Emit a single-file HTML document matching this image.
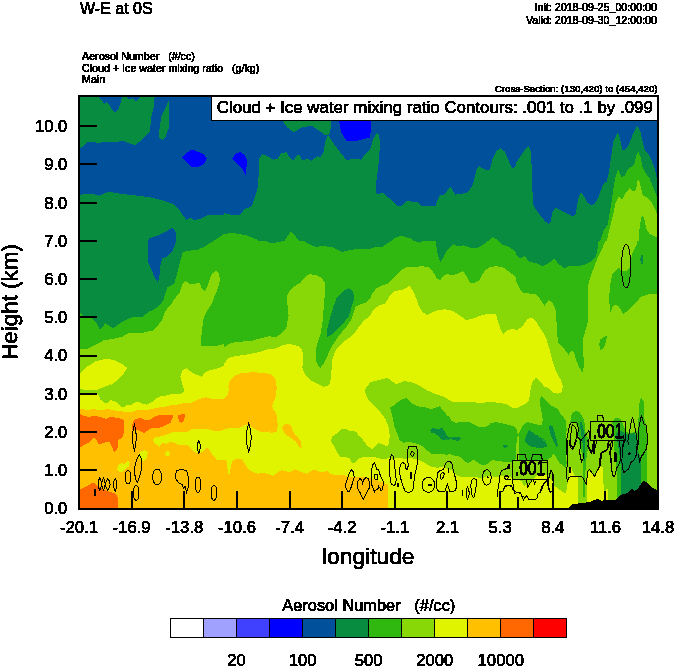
<!DOCTYPE html>
<html>
<head>
<meta charset="utf-8">
<title>W-E at 0S</title>
<style>
html,body{margin:0;padding:0;background:#fff;}
body{width:674px;height:667px;overflow:hidden;position:relative;font-family:"Liberation Sans",sans-serif;}
svg{position:absolute;left:0;top:0;display:block;}
text{font-family:"Liberation Sans",sans-serif;fill:#000;stroke:#000;stroke-width:0.5px;}
.s{stroke-width:0.6px;}
</style>
</head>
<body>
<svg width="674" height="667" viewBox="0 0 674 667">
<defs><filter id="th" x="0" y="0" width="100%" height="100%" filterUnits="userSpaceOnUse" color-interpolation-filters="sRGB"><feComponentTransfer><feFuncA type="discrete" tableValues="0 0 1 1 1"/></feComponentTransfer></filter></defs>
<rect x="0" y="0" width="674" height="667" fill="#ffffff"/>
<g shape-rendering="crispEdges">
<rect x="80" y="97" width="577" height="411" fill="#088c40"/>
<clipPath id="cp"><rect x="80" y="97" width="577" height="411"/></clipPath>
<g clip-path="url(#cp)">
<polygon fill="#00509b" points="80,148.6 80.2,148.6 87.9,142.1 99.9,142.7 108.6,141.6 117.4,142.1 122.9,140.5 131.6,144.3 135.3,144.9 140.4,141 145.9,135.5 149.8,132.2 151.3,116.9 153.5,108.1 154.6,97.2 657,97 657,180.4 657.2,180.4 655,169.4 651.7,160.7 648.4,154.1 645.1,150.8 643,143.2 640.3,131.1 637.5,126.1 635.3,128.9 632,136.6 628.7,145.3 624.4,149.7 622.2,149.7 620,138.8 617.8,132.2 613.4,141 611.2,156.3 609,171.6 606.8,181.5 603.6,183.7 600.3,191.3 598.1,197.9 594.8,203.4 590.9,205.5 587.1,202.3 584.3,196.8 581.2,192.4 579,195.7 577.3,204.4 575.5,214.3 572.5,216.5 566.3,213.2 559.8,209.9 555,207.7 552.1,213.2 551,220.9 548.8,223.7 545.6,222 541.2,216.5 536.8,211 533.1,204.4 532.4,189.1 531.8,169.4 530.9,151.9 528.7,145.8 524.8,149.7 520.4,156.3 516,162.9 516,165 513.4,168.3 511.2,167.2 507.9,158.5 504.6,151.5 500.2,148 495.9,151.9 492.6,158.5 490,169.4 487.1,170.5 482.7,168.3 479,166.1 476.2,170.5 474,180.4 471.8,186.9 467.4,192.4 461.9,193.9 455.4,194.6 453.2,191.3 450.6,186.9 447.7,190.2 444.4,194.6 441.1,194.6 438.3,197.9 435.7,205.5 429.1,206.2 421.4,206.2 417.1,201.8 412.7,202.3 409.4,200.5 406.1,201.2 401.7,206.2 397.4,206.2 391.9,200.1 387.5,196.8 383.1,193.1 377.7,193.9 375.5,191.3 376.1,182.6 378.3,167.2 379.9,145.3 379.2,134.4 376.6,133.3 373.3,138.8 370,149.7 370,149.7 366.3,153 360.8,159.6 353.1,158.9 346.6,160.2 340,151.9 333.4,143.2 328,134.8 325.8,138.8 323.6,151.9 320.3,157.4 317,156.3 311.6,160.7 307.2,158.5 302.8,160.7 299.5,155.2 297.3,155.2 293,160.7 289.7,157.4 286.4,152.3 281.3,153 277.6,158.5 273.3,159.6 267.8,156.3 262.3,154.1 259.5,158.5 259,169.4 257.9,186.9 254.6,197.9 251.4,206.6 244.8,208.8 239.3,215.4 232.8,215 224,213.2 224,215 207.1,215.4 200.6,218.7 194,220.2 190.7,217.6 186.4,219.8 183.1,215.4 178.7,208.8 174.3,204.4 165.6,201.2 150.2,197.4 134.9,195.3 121.8,193.9 108.6,191.7 98.8,195.7 93.3,193.9 80.2,194.6 80,194.6"/>
<polygon fill="#00509b" points="99.2,97.2 102.1,100.5 104.3,103.8 106.5,101.6 108.6,103.8 111.9,109.2 115.2,112.5 118.5,109.2 120.7,102.7 121.8,97.2"/>
<polygon fill="#00509b" points="126.6,97.2 129.4,99.4 132.7,98.3 136,101.1 140.4,97.2"/>
<polygon fill="#00509b" points="148,241 149.1,238.4 159,235.1 165.6,231.8 172.1,227.9 175.4,230.7 176.5,241 175.4,243.2 172.1,251.9 167.7,256.3 162.3,258.5 160.7,262.9 159.4,276 157.9,282.6 154.6,277.1 151.3,269.5 147.6,260.7 147.6,241"/>
<polygon fill="#088c40" points="168.8,100.5 169.5,108.1 168.8,127.8 165.6,136.6 162.3,139.9 159,137.7 158.6,134.4 160.1,125.6 161.2,116.9 164.5,110.3 167.7,102.7"/>
<polygon fill="#088c40" points="281.3,119.1 287.5,127.8 294,132.2 300.6,127.8 311.6,125.6 318.1,130 325.8,135.5 329.1,134.4 330.8,127.8 331.3,119.1"/>
<polygon fill="#0000ff" points="182,158 186.4,153 191.8,149.3 197.3,151.5 203.9,154.1 206.7,158.5 203.9,164 197.3,167.2 191.8,167.2 187.4,162.9"/>
<polygon fill="#0000ff" points="232.3,158.5 236,153 240.4,152.3 244.8,155.2 247,160.7 246.3,169.4 245.5,174.9 242.6,169.4 237.1,164"/>
<polygon fill="#0000ff" points="338.9,119.1 341.1,132.2 346.6,141 355.3,141.4 364.1,138.8 370,137.7 371.1,127.8 371.1,119.1"/>
<polygon fill="#30b810" points="80,313.2 80.2,313.2 82.4,315.4 88.9,316.5 93.3,319.8 96.6,323.1 99.9,329.7 102.1,327.5 105.4,323.1 108.6,325.3 113,328.6 117.4,325.3 121.8,322 128.3,318.7 134.9,316.5 142.6,317.2 148,312.1 154.6,309.3 160.1,304.5 163.4,300.1 165.6,292.4 167.7,287 174.3,283.7 177.6,271.6 179.8,262.9 182.6,253 185.3,250.9 196.2,250.2 202.8,247.6 209.3,243.6 213.7,241 224,234 232.8,232.9 245.9,235.1 256.8,239.5 259,241 265.6,241 271.1,243.2 278.7,242.1 283.1,241 284.2,241 290.8,231.1 299.5,241 303.9,241 309.4,244.3 315.9,247.1 322.5,245.8 333.4,247.6 342.2,251.9 348.8,250.2 359.7,248.7 370,248.7 370,248.7 376.6,246.5 383.1,246.5 390.8,241 391.9,241 396.3,236.8 402.8,236.2 410.5,238.4 413.8,241 414.9,241 419.3,242.8 423.6,241 435.7,241 436.8,249.8 439,258.5 440.5,261.8 443.3,257.4 446.6,250.9 453.2,244.3 457.6,246.5 464.1,245.4 470.7,247.6 477.3,248 483.8,244.3 487.1,241 488.2,241 492.6,237.3 497,239.5 499.1,241 499.1,241 501.3,244.3 507.9,246.5 513.4,249.8 516,253 516,254.1 520.4,258.5 524.8,256.3 529.1,261.8 535.7,262.9 542.3,266.2 548.8,262.9 554.3,258.5 558.7,264 564.2,268.4 570.7,265.5 577.3,266.2 583.9,265.1 590.4,261.8 595.9,256.3 597.4,249.8 598.7,241 600.3,241 603.6,230.7 607.9,224.1 611.2,204.4 613.4,189.1 615.6,176 618.4,169.4 621.1,177.1 624.4,176 627.6,169.4 630.9,167.2 634.2,165 636,156.3 638.1,151.5 640.3,156.3 642.5,167.2 646.2,173.8 649.5,178.2 653.9,189.1 657.2,197.9 657,197.9 657,508 80,508"/>
<polygon fill="#88d808" points="80,349.4 80.2,349.4 87.9,348.7 95.5,345 104.3,339.9 113,339.1 121.8,336.9 129.4,332.9 143.7,332.5 152.4,330.7 157.9,325.3 162.3,319.8 164.5,313.2 167.7,307.8 171,304.5 174.3,299 179.8,292.4 182.6,283.7 185.3,280.8 189.6,283.7 195.1,283.7 199.5,282.6 201.7,288.1 204.5,291.3 207.1,287 209.3,280.4 212,273.8 215.9,270.6 219.2,273.8 219.8,280.4 218.1,288.1 214.8,295.7 211.5,304.5 206.1,312.1 203.2,319.8 201.7,332.9 200.6,346.1 209.3,346.5 218.1,345.6 224,343.9 224,347.2 230.6,342.8 241.5,341.7 252.5,340.6 260.1,338.4 268.9,336.2 275.4,337.3 282,332.9 286.4,327.5 288.6,315.4 287.5,304.5 287,295.7 289.7,290.3 295.1,285.9 300.6,282.6 305,277.1 309.4,274.3 315.9,274.9 321.4,277.8 324.7,282.6 324.7,295.7 323.6,308.9 322.5,322 320.3,335.1 317,343.9 315.5,352.6 315.9,360.3 318.1,365.8 320.3,368 323.6,363.6 326.9,357 330.2,349.4 333.4,343.9 337.8,337.3 342.2,331.8 346.6,326.4 351,319.8 353.6,313.2 355.3,306.7 359.7,304.5 366.3,302.3 370,299 370,299 372.2,293.5 376.6,288.1 380.9,285.9 387.5,283.7 394.1,277.1 400.6,270.6 407.2,266.8 413.8,267.3 421.4,266.2 429.1,267.3 433.5,272.7 436.8,278.2 440,280.4 443.3,276 446.6,273.8 452.1,275.6 457.6,273.8 463,271.2 466.3,276 469.6,282.6 474,283 479.4,280.4 482.7,273.8 486,269.5 490.4,266.8 497,266.2 503.5,267.7 510.1,272.7 516,277.1 516,281.5 519.3,288.1 522.6,292.4 529.1,293.5 534.6,293.5 540.1,299 544.5,305.6 548.8,300.1 552.1,302.3 555.4,308.9 556.5,322 557.2,335.1 558.7,343.9 563.1,347.2 568.5,354.8 571.8,350.4 574,352.6 576.2,360.3 579.5,368 582.8,372.3 584.3,363.6 582.8,350.4 583.4,337.3 586,328.6 588.2,319.8 587.8,304.5 588.2,284.8 591.5,273.8 597,259.6 601.4,249.8 605.7,241 606.8,241 610.1,226.3 613.4,213.2 615.6,202.3 618.9,196.8 622.2,200.1 625.4,193.5 629.8,188 633.1,191.3 636,190.2 637.5,181.5 639,179.9 640.8,186.9 643,195.7 647.3,197.9 651.7,202.3 655,208.8 657.2,215.4 657,215.4 657,508 80,508"/>
<polygon fill="#30b810" points="638.6,241 639.7,226.3 641.9,215 644.1,217.6 646.2,228.5 649.5,234 657.2,237.3 657.2,293.5 647.3,294.6 640.8,296.8 635.3,303.4 629.8,308.9 623.3,314.3 618.9,306.7 615.6,304.9 612.3,306.7 610.6,313.2 609,300.1 610.1,284.8 612.3,273.8 618.9,267.3 621.1,270.6 625.4,271.6 629.8,267.3 632,254.1 636.4,245.4 637.5,241"/>
<polygon fill="#30b810" points="599.2,343.9 600.3,339.5 603.6,336.9 606.8,336.2 606.2,341.7 603.6,348.3 600.3,350"/>
<polygon fill="#088c40" points="640.3,259.6 640.8,255.9 641.9,254.8 643,255.9 643.4,259.6 643,262.9 641.9,264.4 640.8,262.9"/>
<polygon fill="#088c40" points="326.9,337.3 327.3,328.6 330.2,317.6 333.4,306.7 336.7,297.9 342.2,291.8 348.8,288.1 353.1,290.9 354.2,299 351,308.9 348.8,316.5 343.3,323.1 337.8,328.6 332.4,334"/>
<polygon fill="#e0f400" points="80.2,373.4 86.8,366.9 95.5,361.4 104.3,359.2 113,359.6 120.7,363.1 127.3,368 122.9,374.5 117.4,380 110.8,385.5 111.7,383.7 105,386.7 99,389 94.5,390.5 87,390.2 79.9,389"/>
<polygon fill="#e0f400" points="80,393.2 79.9,393.2 96.7,393.5 99,395 100.5,399.5 104.2,403.2 108,402.5 110.2,400.2 114,401 117.7,403.2 121.5,407 124.5,407 127.5,404.7 131.2,404.7 135,402.5 138.7,401.7 142.5,404 147,404.7 151.5,402.5 156,398.7 159.7,396.5 165,395.7 171,394.2 178,393.5 179,394.2 182.7,392.7 184.2,390.5 182.7,386 181.2,380 180.4,376.7 182.6,370.1 186.4,368.4 191.8,372.3 197.3,375 201.7,376.7 205,372.3 209.3,370.1 215.9,369.1 224,365.8 224,363.6 228.4,358.1 236,355.9 245.9,354.8 256.8,352.6 267.8,349.4 276.5,348.3 283.1,345 289.7,343.9 298.4,346.1 302.4,349.4 302.8,359.2 302.4,368 305,374.5 310.5,380 314.5,382.2 319,384.5 323.5,386.7 328,386 330.2,383 330.8,376.7 331.3,372.3 332.4,359.2 335.6,350.4 341.1,343.9 346.6,339.5 353.1,335.1 357.5,328.6 361.9,323.1 366.3,318.7 370,315.4 370,315.4 373.3,310 378.8,305.6 385.3,303.4 389.7,295.7 394.1,291.3 402.8,289.6 409.4,285.9 412.7,290.3 416,297.9 419.3,306.7 422.5,312.1 427.3,315 432.4,312.1 437.9,310 445.5,309.3 453.2,311 459.7,315.4 466.3,320.2 472.9,318.7 479.4,315.9 486,314.3 495.9,314.3 498.1,322 500.2,328.6 503.1,334 506.8,330.7 511.2,329 516,329.7 516,330.7 522.6,326.4 526.9,319.8 531.3,317.6 535.7,320.9 539,326.4 543.4,332.9 546.6,339.5 549.9,350.4 553.2,363.6 556.5,372.3 560.9,380 563.1,387 562.7,387.5 561.2,392.7 561.2,508 80,508"/>
<polygon fill="#88d808" points="531.3,387 535.7,377.8 540.1,381.1 544.5,387 538,384.5 542.5,386 548.5,388.2 553,392.7 557.5,393.5 556,398 547,398 538,395"/>
<polygon fill="#88d808" points="331,440 332.5,436.2 337,433.2 340.7,429.5 346,429.2 350.5,431 356.5,431.7 358.5,435.5 363,440 367.5,446 372,449 375,446 378,443 382.5,444.5 387,446.7 389.2,443 389.7,435.5 388.5,426.5 385.5,419 381,413 375,407 369,401 365.7,395 365.2,389 369,384.5 370,382.2 378.8,380 387.5,377.8 391.9,381.1 396.3,384.4 403.9,381.1 411.6,382.2 419.3,385.5 421.4,387 427.5,390.5 433.5,393.5 441,395.7 448.5,399.5 454,402.5 450.5,401.7 458,402.5 465.5,402.2 476,402.5 485,402.5 494,402.2 501.5,403.2 507.5,404.7 512,407.7 516.5,408.5 521,406.2 525.5,404 528.5,401 530,395 530.7,387.5 532.2,382.2 533.7,380 538,384.5 542.5,386 548.5,388.2 553,392.7 557.5,393.5 561.2,392.7 657,392.7 657,508 578.4,508 578.4,508 578.4,476.2 575.1,475.7 573,471.8 571.6,468.5 570.7,468 569.7,471.8 569.1,474.8 567.9,482 566,493 563,492.2 558.8,489 554.6,485.9 551.4,479.6 547.2,475.4 542,473.3 538.8,474.3 534.6,477.5 529.4,483.8 524,485.9 521,480.6 513.6,479.6 510.5,477.5 506.3,475.4 503,476.4 500,476.5 494.4,477 490.2,475.4 486,476.5 482,478.6 476.7,477 471.5,477.5 466.3,476.5 462.2,477 458,476 454.9,473.9 452.3,470.8 444.5,467.1 444,466.2 438,467.7 432,467 427.5,464.7 423,461.7 417,459.5 411,458 405,458.7 399,458 393,458.7 388.5,458 384,459.5 378,458 372,456.5 366,456.5 360,458 355,462.5 352,462.5 349.7,458 346,457.2 340,456.5 337,452 334,446 331.7,443"/>
<polygon fill="#e0f400" points="586.7,508 586.7,482 587.7,474.6 589.3,470.4 592.5,473.6 594.6,476.2 597.2,470.4 599.8,467.3 603,466.8 603.4,482 603.9,489.3 603.9,508"/>
<polygon fill="#e0f400" points="551.4,479.6 554.6,485.9 558.8,489 563,492.2 566,493 567.9,482 569.1,474.8 569.7,471.8 570.7,468 571.6,468.5 573,471.8 575.1,475.7 578.4,476.2 578.4,508 551,508"/>
<polygon fill="#e0f400" points="606.3,489.3 608.1,489.3 608.1,508 606.3,508"/>
<polygon fill="#30b810" points="390,407 393.7,405.8 397.5,402.5 402,399.2 406.5,398.3 410.2,401.7 414,404.7 420,406.7 426,407.3 430.5,409.2 435,407.7 439.5,406.2 442.5,410 447,415.2 451.5,419 454,420.5 449,417.5 452,421.2 455,422.7 461,422.3 468.5,422 474.5,425 479,427.2 485,426.8 489.5,425 491,422.7 497,422.3 503,423.5 509,425 513.5,426.5 516.5,429.5 518,434.7 516.5,443 516.2,450.5 516.5,455 515,461 509,462.2 503,461.7 497,460.7 492.5,460.2 489.5,461.7 487.2,464 483.5,465.5 479.7,464 476.7,461.7 473.7,459.5 471.5,461 468.5,463.2 465.5,461.7 462.5,459.5 459.5,456.5 455,455.7 450.5,454.2 446,453.5 448.5,455 442.5,454.2 436.5,453.5 432,454.2 427.5,450.5 423,446.7 418.5,444.5 414,443 408,441.5 403.5,443 399.7,440 397.5,434 394.5,426.5 393,419 391.5,413"/>
<polygon fill="#30b810" points="518,434.7 520.2,431 522.5,426.5 524.7,423.5 527.7,422 533,423.5 539,425 542,425 542.7,419 541.2,410 539.7,402.5 540.5,398 543.5,395.7 546,395 540.5,396.8 543.1,397.3 545.7,400 548.9,403.6 552,406.3 556.2,407.8 558.3,409.9 560.4,414.1 563.6,417.3 565.7,420.4 566.2,424.6 566.7,429.9 566.2,434.1 566.2,453.7 566.6,463.5 565.5,467.6 563.2,465.7 560.2,463.5 558,460.5 555.7,456.7 553.5,454.1 550.9,457.5 547.5,459.7 540,459.5 530,460 522,461 519,461.5 518.7,455 518.7,446 519.5,438.5"/>
<polygon fill="#30b810" points="570.4,422.5 570.9,416.2 573,412.6 576.2,411 579.3,412 581.4,415.2 583.5,419.4 584.6,423.6 585.1,429.9 586.1,435.1 589,440 588,448 586.5,458 585.5,470 585.2,497 582.6,497 582.6,470 582.8,458 581,450 579,442 578.3,434 577.5,426 575,422.5"/>
<polygon fill="#30b810" points="612.1,421.3 614.8,418.6 618.1,417.5 620.8,419.7 623.5,425.6 625.6,431 629,433.2 632,433 637.5,431 638.6,417 639.1,409.4 639.7,400.8 641.3,398.1 643.5,400.8 643.8,407.3 643.5,414.8 645.1,421.3 646.7,426.7 647.8,435.4 647.2,444 647,460 647,482 647,508 617,508 617,482 616,461 614.4,450.5 613.9,440 613.2,427.8"/>
<polygon fill="#088c40" points="429.7,430.2 432.7,428.3 438,428.7 442.5,428.3 444.7,431.7 447,436.2 451.5,437.7 454,437 450.5,436.7 456.5,437 461,437.7 458.7,441.5 455,440 450.5,439.2 446,440 447,439.2 444,440.7 441,439.2 438,435.5 434.2,433.2 431.2,432.5"/>
<polygon fill="#088c40" points="502.2,445.7 505.2,444.8 507.5,445.7 506,447.5 503.7,446.7"/>
<polygon fill="#088c40" points="525.2,438.5 527,434 529.2,430.2 533,432.5 537.5,436.2 542,439.2 546,440.7 533.1,432.5 536.3,434.6 540.5,438.3 544.7,441.4 547.3,444.6 546.8,447.2 542.6,447.7 537.3,447.7 533.1,447.2 530,445.6 536,447.5 531.5,446.7 527.7,444.5 525.5,441.5"/>
<polygon fill="#088c40" points="549.4,426.2 551,425.2 552.6,426.2 554.1,430.9 555.7,436.2 557.3,442.5 557.8,446.1 556.2,446.7 554.7,443.5 552.6,439.3 550.5,434.1 549.4,429.9"/>
<polygon fill="#088c40" points="580.2,422.5 581.4,422 582.5,424.6 583.5,428.8 584.6,434.1 585.1,439.3 585.1,445.6 585.1,453 585,461 584.2,461 583.5,454 583,449.8 582.5,442.5 581.4,435.1 580.4,428.8"/>
<polygon fill="#088c40" points="615.9,433.2 618.1,432.1 621.3,431 624.6,433.2 627.8,435.4 631,433.2 634.3,433.2 636.4,436.4 637.5,441.8 638,450.5 640.1,456.8 641,466.2 641.2,482 641.2,508 621.2,508 621.2,471.5 619.7,455.7 618.1,445 616.5,438"/>
<polygon fill="#088c40" points="502.6,446.5 505,445.3 507.9,446.5 505,447.8"/>
<polygon fill="#ffc000" points="80,408.5 79.9,408.5 87,410 93,409.2 100.5,410 108,409.2 115.5,410.7 123,411.5 130.5,412.2 138,410 145.5,410 151.5,409.2 157.5,407.7 163.5,407 169.5,405.5 178,404.7 177.5,404.7 185,402.5 192.5,402.5 200,398.7 206,397.2 212,398.7 222.5,399.5 227.7,395 228.8,389 229.2,384.5 230,380 228.4,387 230.6,380 234.9,375.6 241.5,373 252.5,372.3 263.4,372.8 271.1,374.5 275.4,378.9 276.1,387 275.5,380 276.7,387.5 276.2,395 274,401 272.2,406.2 273.2,410 276.2,412.2 277,419 277.7,425 277,431.7 269.5,433.2 262,431.7 270,470 268,473.7 272.5,476 277,473 281.5,470 286,471.2 290.5,472.2 294.2,469.2 298,470.7 302.5,472.2 307,473.7 311.5,470.7 314.5,469.7 319,471.5 323.5,472.2 327.2,470.7 330.2,473.7 335.5,475.2 341.5,474.5 346,476 349,477.5 358.5,476.5 363,477.2 369,478 375,479.5 381,481.7 386.2,484 388.5,486.2 388.2,493 387.7,500.5 388.2,507.7 80,508"/>
<polygon fill="#e0f400" points="153,439.2 156,437 162,436.2 168,434 174,431.7 179,432.5 188,431.7 191.7,429.2 200,429.2 209,429.5 215,431 219.5,431.3 225.5,428.7 233,428 239,428.3 243.5,425.7 248,424.2 254,428.7 260,431.7 266,432.5 270,431 270,470 263,473 257,473.7 251.7,471.5 248,468.5 245,464 242,459.5 236.7,458.7 232.2,461 230.7,467 230,473.7 227.7,473.7 227.3,464 226.2,459.5 221,460.2 216.5,459.5 212.7,455 209.7,450.5 206.7,447.5 202.2,452 199.2,453.5 194.7,452 191,449 188,445.2 179,444.8 171,441.5 166.5,443.7 162,443 159.7,446.7 156,444.5 153.7,441.5"/>
<polygon fill="#e0f400" points="262,431.7 269.5,433.2 277,431.7 278.5,440 277,455 271,470 268,473.7 262,473"/>
<polygon fill="#e0f400" points="165,453.5 166.5,451.2 168.7,451.2 169.8,454.2 168,456.5 165.7,455.7"/>
<polygon fill="#e0f400" points="117.3,468.5 118.5,464.7 121.5,463.2 124.5,464 127.5,461 129.7,461.7 129,466.2 126,468.5 123,471.5 119.2,472.2 117.7,470.7"/>
<polygon fill="#e0f400" points="138,454.2 141,451.2 144.7,450.2 147.7,452 147.3,456.5 145.5,460.2 142.5,461 139.5,458.7"/>
<polygon fill="#ffc000" points="282.2,428 283.7,425 287.5,423.8 291.2,425.7 292.7,430.2 294.2,434 298,437.7 300.7,441.5 301.7,446.7 300.2,448.2 298,445.2 295.7,441.5 292,438.5 288.2,436.2 284.5,433.2"/>
<polygon fill="#ff6800" points="79.9,413.7 84,416 88.5,416.7 96,416 102,417.5 106.5,419 110.2,416.7 115.5,417.5 121.5,419 124.5,420.2 124.2,429.5 123,437 120.7,438.5 118.5,440 117.7,447.5 116.2,451.2 114,452 111.7,446 109.5,441.5 105.7,442.2 102,443.7 98.2,443.7 96.7,440 94.5,437.7 91.5,440 88.5,443 84,445.2 79.9,447.5"/>
<polygon fill="#ff6800" points="132.3,425.7 132.9,421.7 135.7,418.7 141,418.2 147,420.5 151.5,419 154.5,416.7 159,415.2 165,415.2 171,414.5 170,414.5 173.7,414.5 170.7,422.7 166.5,425 162,427.2 156,428 151.5,428 147,431 144,433.2 141,431.7 137.2,429.5 132,429.5"/>
<polygon fill="#ff6800" points="177.5,414.8 185,414.2 184.2,420.5 182,422.7 179.7,422 178.2,418.2"/>
<polygon fill="#ff6800" points="79.9,489.2 84,487.7 88.5,485.5 92.2,482.5 94.5,483.2 97.5,486.2 100.5,487.7 105,490 110.2,492.2 114.7,493 117.3,496 118.2,502 118.2,507.7 79.9,507.7"/>
<polygon fill="#000000" points="568,508 572,504.5 581,503 589,502.2 597.5,499 598.2,499.3 602.3,500.8 605.5,500 616,499.8 621.2,494.6 626.5,493.5 631.7,488.8 634.9,490.9 638,488.3 641.2,483.5 643.8,481.1 646.4,482 649.6,485.1 652.7,487.7 657,490 657,508"/>
</g>
</g>
<g shape-rendering="crispEdges">
<rect x="211.5" y="96" width="446" height="24" fill="#fff" stroke="#000" stroke-width="1"/>
<rect x="79" y="96" width="579" height="413" fill="none" stroke="#000" stroke-width="2"/>
<rect x="131.0" y="491" width="2" height="18" fill="#000"/>
<rect x="183.0" y="491" width="2" height="18" fill="#000"/>
<rect x="236.0" y="491" width="2" height="18" fill="#000"/>
<rect x="289.0" y="491" width="2" height="18" fill="#000"/>
<rect x="341.0" y="491" width="2" height="18" fill="#000"/>
<rect x="394.0" y="491" width="2" height="18" fill="#000"/>
<rect x="446.0" y="491" width="2" height="18" fill="#000"/>
<rect x="499.0" y="491" width="2" height="18" fill="#000"/>
<rect x="552.0" y="491" width="2" height="18" fill="#000"/>
<rect x="604.0" y="491" width="2" height="18" fill="#000"/>
<rect x="79" y="469.0" width="18" height="2" fill="#000"/>
<rect x="79" y="431.0" width="18" height="2" fill="#000"/>
<rect x="79" y="393.0" width="18" height="2" fill="#000"/>
<rect x="79" y="355.0" width="18" height="2" fill="#000"/>
<rect x="79" y="316.0" width="18" height="2" fill="#000"/>
<rect x="79" y="278.0" width="18" height="2" fill="#000"/>
<rect x="79" y="240.0" width="18" height="2" fill="#000"/>
<rect x="79" y="202.0" width="18" height="2" fill="#000"/>
<rect x="79" y="163.0" width="18" height="2" fill="#000"/>
<rect x="79" y="125.0" width="18" height="2" fill="#000"/>
</g>
<g filter="url(#th)">
<text x="79.0" y="532.8" font-size="16.7" text-anchor="middle">-20.1</text>
<text x="131.6" y="532.8" font-size="16.7" text-anchor="middle">-16.9</text>
<text x="184.3" y="532.8" font-size="16.7" text-anchor="middle">-13.8</text>
<text x="236.9" y="532.8" font-size="16.7" text-anchor="middle">-10.6</text>
<text x="289.6" y="532.8" font-size="16.7" text-anchor="middle">-7.4</text>
<text x="342.2" y="532.8" font-size="16.7" text-anchor="middle">-4.2</text>
<text x="394.8" y="532.8" font-size="16.7" text-anchor="middle">-1.1</text>
<text x="447.5" y="532.8" font-size="16.7" text-anchor="middle">2.1</text>
<text x="500.1" y="532.8" font-size="16.7" text-anchor="middle">5.3</text>
<text x="552.8" y="532.8" font-size="16.7" text-anchor="middle">8.4</text>
<text x="605.4" y="532.8" font-size="16.7" text-anchor="middle">11.6</text>
<text x="658.0" y="532.8" font-size="16.7" text-anchor="middle">14.8</text>
<text x="67.4" y="514.3" font-size="16.7" text-anchor="end">0.0</text>
<text x="67.4" y="476.1" font-size="16.7" text-anchor="end">1.0</text>
<text x="67.4" y="437.9" font-size="16.7" text-anchor="end">2.0</text>
<text x="67.4" y="399.6" font-size="16.7" text-anchor="end">3.0</text>
<text x="67.4" y="361.4" font-size="16.7" text-anchor="end">4.0</text>
<text x="67.4" y="323.2" font-size="16.7" text-anchor="end">5.0</text>
<text x="67.4" y="285.0" font-size="16.7" text-anchor="end">6.0</text>
<text x="67.4" y="246.8" font-size="16.7" text-anchor="end">7.0</text>
<text x="67.4" y="208.5" font-size="16.7" text-anchor="end">8.0</text>
<text x="67.4" y="170.3" font-size="16.7" text-anchor="end">9.0</text>
<text x="67.4" y="132.1" font-size="16.7" text-anchor="end">10.0</text>
<text x="368.3" y="563.5" font-size="22.8" text-anchor="middle">longitude</text>
<text transform="translate(17.3,302) rotate(-90)" font-size="22.4" text-anchor="middle">Height (km)</text>
<text x="80" y="14" font-size="16">W-E at 0S</text>
<text class="s" x="657" y="11.3" font-size="10.7" text-anchor="end">Init: 2018-09-25_00:00:00</text>
<text class="s" x="657" y="23.5" font-size="10.7" text-anchor="end">Valid: 2018-09-30_12:00:00</text>
<text class="s" x="82" y="60" font-size="10.7" xml:space="preserve">Aerosol Number   (#/cc)</text>
<text class="s" x="82" y="71.5" font-size="10.7" xml:space="preserve">Cloud + Ice water mixing ratio   (g/kg)</text>
<text class="s" x="82" y="83" font-size="10.7">Main</text>
<text class="s" x="657.5" y="91.5" font-size="9.7" text-anchor="end">Cross-Section: (130,420) to (454,420)</text>
<text x="434.8" y="113.3" font-size="16.9" text-anchor="middle">Cloud + Ice water mixing ratio Contours: .001 to .1 by .099</text>
<text x="368.8" y="610.5" font-size="16.4" text-anchor="middle" xml:space="preserve">Aerosol Number   (#/cc)</text>
</g>
<g shape-rendering="crispEdges">
<rect x="170.5" y="618" width="33.0" height="19.5" fill="#ffffff" stroke="#000" stroke-width="1"/>
<rect x="203.5" y="618" width="33.0" height="19.5" fill="#a0a0ff" stroke="#000" stroke-width="1"/>
<rect x="236.6" y="618" width="33.0" height="19.5" fill="#4040ff" stroke="#000" stroke-width="1"/>
<rect x="269.6" y="618" width="33.0" height="19.5" fill="#0000ff" stroke="#000" stroke-width="1"/>
<rect x="302.6" y="618" width="33.0" height="19.5" fill="#00509b" stroke="#000" stroke-width="1"/>
<rect x="335.6" y="618" width="33.0" height="19.5" fill="#088c40" stroke="#000" stroke-width="1"/>
<rect x="368.7" y="618" width="33.0" height="19.5" fill="#30b810" stroke="#000" stroke-width="1"/>
<rect x="401.7" y="618" width="33.0" height="19.5" fill="#88d808" stroke="#000" stroke-width="1"/>
<rect x="434.7" y="618" width="33.0" height="19.5" fill="#e0f400" stroke="#000" stroke-width="1"/>
<rect x="467.8" y="618" width="33.0" height="19.5" fill="#ffc000" stroke="#000" stroke-width="1"/>
<rect x="500.8" y="618" width="33.0" height="19.5" fill="#ff6800" stroke="#000" stroke-width="1"/>
<rect x="533.8" y="618" width="33.0" height="19.5" fill="#ff0000" stroke="#000" stroke-width="1"/>
</g>
<g filter="url(#th)">
<text x="236.6" y="665.5" font-size="16.7" text-anchor="middle">20</text>
<text x="302.6" y="665.5" font-size="16.7" text-anchor="middle">100</text>
<text x="368.7" y="665.5" font-size="16.7" text-anchor="middle">500</text>
<text x="434.7" y="665.5" font-size="16.7" text-anchor="middle">2000</text>
<text x="500.8" y="665.5" font-size="16.7" text-anchor="middle">10000</text>
</g>
<g fill="none" stroke="#000" stroke-width="1" shape-rendering="crispEdges">
<ellipse cx="626.1" cy="266.2" rx="4.6" ry="21.8"/>
<path d="M134.4,424.3 Q130.6,437.5 134.4,450.6 Q138.2,437.5 134.4,424.3 Z"/>
<path d="M139.5,454.9 L141,458 L142,463 L141.3,470 L139.5,477 L137.3,482.6 L135.6,479 L134.6,473 L134.8,467 L136.3,461 L138.3,456.5 Z"/>
<ellipse cx="128.0" cy="477.2" rx="2.6" ry="6.8"/>
<ellipse cx="136.2" cy="493.0" rx="2.7" ry="7.4"/>
<ellipse cx="157.2" cy="476.9" rx="4.6" ry="7.9"/>
<path d="M115.2,478.3 Q111.8,484.8 115.2,491.2 Q118.6,484.8 115.2,478.3 Z"/>
<path d="M107.8,478.3 Q103.2,484.4 107.8,490.4 Q112.4,484.4 107.8,478.3 Z"/>
<path d="M99.8,477.6 Q96.4,484.0 99.8,490.4 Q103.2,484.0 99.8,477.6 Z"/>
<path d="M103.5,477.6 Q100.1,484.0 103.5,490.4 Q106.9,484.0 103.5,477.6 Z"/>
<path d="M95.0,489.0 L95.0,496.0" stroke-width="1.3"/>
<path d="M198.8,440.2 Q195.8,446.9 198.8,453.6 Q201.8,446.9 198.8,440.2 Z"/>
<path d="M248.8,423.2 Q244.0,437.6 248.8,452.1 Q253.6,437.6 248.8,423.2 Z"/>
<path d="M176.9,470.6 L181.3,469.2 L186.5,470.6 L188,475.8 L188.7,481.8 L188,487.7 L186.5,492.2 L185,486.2 L183.5,488.4 L182.1,484.7 L178.4,482.5 L175.7,478.8 L175.4,474.3 Z"/>
<ellipse cx="198.0" cy="484.8" rx="2.7" ry="7.5"/>
<ellipse cx="214.0" cy="492.9" rx="2.7" ry="7.4"/>
<path d="M351.2,469.5 L353.5,472 L354.2,477.4 L352.6,482.8 L350.8,488.2 L349.4,491.8 L347.6,491.8 L345.8,487.3 L345.8,483.7 L347.6,478.3 L349.4,472.9 Z"/>
<path d="M357.5,484.6 L358,481 L359.8,478.7 L361.6,479.6 L362.5,483.7 L363.8,479.6 L366.1,477.4 L368.3,478.7 L369.5,482.8 L369.2,488.2 L367,491.8 L365.2,495.4 L363.6,499.4 L362,497.2 L360.2,492.7 L358,489.1 Z"/>
<path d="M371.9,468.4 L373.3,463.4 L374.6,462.3 L375.5,465.7 L376.9,469.3 L378.7,469.7 L379.6,473.8 L381.4,477.4 L383,481 L383.2,485.5 L382.3,489.5 L380.9,490.9 L380,488.2 L378.7,486.4 L377.8,489.1 L376,490 L374.6,491.8 L373.3,489.1 L371.7,484.6 L371.5,476.5 Z"/>
<path d="M374.6,474.7 L377.8,474.7 L377.8,479.2 L375.1,479.6 Z"/>
<path d="M391.7,454.4 L393.5,456.7 L394.4,463 L395.3,472 L396.2,479.2 L395.8,483.7 L394,485.5 L391.7,484.6 L390.4,481 L389.5,472 L389.3,463 L390.4,457.6 Z"/>
<path d="M397.8,482.8 L397.8,487.3" stroke-width="1.6"/>
<path d="M408.6,446.8 L416,446.5 L417.2,449.4 L417.6,461 L416.5,468.3 L414.9,474.6 L413.9,482 L412.8,490.4 L409.7,492.3 L405.5,491.9 L403.4,487.2 L401.3,480.9 L400,474.6 L399.7,468.3 L400.8,464.1 L402.9,462.6 L405,464.1 L405.5,468.3 L407.1,469.4 L408.1,466.2 L407.8,455.7 L407.8,449.4 Z"/>
<path d="M410.2,453.6 L412.3,451.3 L414.4,453.6 L412.3,456.8 Z"/>
<path d="M411.0,471.5 L411.0,478.8" stroke-width="1.6"/>
<ellipse cx="428.4" cy="484.9" rx="6.4" ry="7.5"/>
<path d="M428,484.9 L431.7,484.9" stroke-width="2"/>
<path d="M437,489.3 L436.4,484.1 L437,477.8 L438,472.5 L440.1,470.4 L442.7,469.9 L444.3,467.3 L445.4,463.6 L447.5,461.8 L450.6,461.8 L452.5,464.7 L453.2,470.4 L454.8,475.7 L456.4,482 L456.9,486.2 L455.3,490.4 L452.2,491.9 L449.6,491.4 L448.5,487.2 L447.5,484.6 L446.2,487.2 L445.4,490.9 L442.2,491.9 L439.1,491.9 Z"/>
<path d="M440.1,476.7 L441.2,473.6 L443.1,472 L444.3,474.1 L443.3,477.3 L441.4,479.7 Z"/>
<path d="M448.3,467.8 L448.3,473.0" stroke-width="1.6"/>
<path d="M462.3,490.4 L462.3,495.6" stroke-width="1.3"/>
<path d="M467.6,486.7 Q464.4,493.0 467.6,499.3 Q470.8,493.0 467.6,486.7 Z"/>
<path d="M473.9,478.3 L476,479.3 L476.5,484.1 L475.5,490.4 L473.9,497.7 L472.3,496.7 L471.3,491.4 L470.7,485.1 L471.8,480.4 Z"/>
<ellipse cx="486.8" cy="477.4" rx="4.4" ry="7.8"/>
<circle cx="487.6" cy="477.3" r="0.6" fill="#000"/>
<path d="M498,496.7 L497.8,490.4 L499.1,482 L500.1,474.6 L501.2,471 L504.3,469.4 L506.9,468.9 L508,466.2 L508.7,464.7 L509.6,467.3"/>
<path d="M500.1,492.5 L502.7,491.4 L504.8,486.7 L507.5,485.6 L510.6,486.2 L512.2,487.2 L513.2,490.4 L514.8,491.9 L518,492.3 L520.6,493.5 L522.2,496.7 L525,497.2"/>
<circle cx="506.4" cy="477.3" r="1.9"/>
<path d="M500.4,491.4 L500.4,498.8" stroke-width="2"/>
<path d="M518.0,497.2 L518.0,508.0" stroke-width="1.6"/>
<path d="M517.1,460.3 L517.6,454.9 L525.2,454.4 L526.6,460.3"/>
<path d="M531.5,460.3 L532.4,454.4 L541.4,454.4 L542.3,460.3"/>
<path d="M512.2,479.2 L513.1,484.6 L514,490 L514.9,493.6 L516.7,492.7 L520.3,492.7 L521.6,495.4 L523.4,499.9 L525.2,497.2 L526.6,495.8 L528.4,499 L531.1,499.9 L535.6,499.4 L536.9,498.1 L537.8,494 L539.6,492.2 L541.4,490.9 L542.8,486.4 L544.6,482.8 L546.4,481 L547.3,479.2"/>
<path d="M551.3,470.6 L553.6,474.7 L554,482.8 L553.1,490 L551.8,491.8 L549.5,491.3 L548.6,485.5 L549.1,475.6 Z"/>
<path d="M505,468.8 L510.4,468.8"/>
<path d="M505,476.5 L507.7,476.5"/>
<path d="M505,479 L511.3,479"/>
<path d="M505,485.9 L511.7,485.9"/>
<path d="M508.8,464.0 L508.8,468.5" stroke-width="1.6"/>
<path d="M526.6,479.2 L527.5,487.3 L529.7,483.7 L532,480.5"/>
<path d="M533.8,479.2 L534.2,484.6 L535.6,481"/>
<path d="M567,465 L567,455.4 L566.5,445.5 L567,438.3 L568.3,431.1 L569.7,424.8 L571.5,422.5 L575.1,422.1 L577.3,423 L578.2,427.5 L578,432.9 L577.3,436.5 L579.1,438.7 L580.9,440.5 L580.5,445.5 L579.6,451.8 L580.5,457.2 L581.8,462.6"/>
<path d="M572.4,424.3 L574.6,426.6 L576.4,429.7 L576.9,434.7 L576,439.2 L574.6,443.7 L573.3,448.2 L572.4,449.5 L570.6,447.3 L569.7,444.6 L570.1,439.2 L571,432.9 L571.5,427.5 Z"/>
<path d="M580.9,440.5 L585,435.6 L588.6,431.1 L589.5,432 L589,439.2 L587.7,446.4 L589,449.1 L591.7,453.6 L592.6,450 L593.1,442.8 L594,439.6"/>
<path d="M597.1,421.2 L598,415.3 L602.5,415.3 L603.9,421.2"/>
<path d="M597.6,439.6 L595.8,444.6 L594,451.8 L593.5,454.5"/>
<path d="M608.4,439.6 L607.9,444.6 L607,450 L604.8,451.8 L602.1,452.7 L600.3,455.4 L599.8,460.8 L599.4,465"/>
<path d="M612,439.6 L612.4,445.5 L611.1,449.1 L610.6,453.6 L611.1,459 L612,465"/>
<path d="M615.1,452.2 L615.1,461.2" stroke-width="1.6"/>
<path d="M593.5,448.0 L593.5,454.0" stroke-width="1.6"/>
<path d="M628.4,444.6 L627.9,441 L628.8,435.6 L629.7,430.2 L631.1,423 L632.4,417.1 L633.8,422.1 L635.1,428.4 L636.5,435.6 L637.2,441 L636.9,445.5"/>
<path d="M635.6,457.2 L636.5,451.8 L637.8,446.4 L638.5,441 L638.3,435.6 L638.7,428.4 L640.1,421.2 L641.4,415.3 L642.8,420.3 L644.1,423.9 L645.9,424.8 L646.8,430.2 L647.4,437.4 L647.3,443.7 L645.9,449.1 L644.1,452.7 L641.4,457.2 L640.1,460.8"/>
<path d="M623.4,434.7 L624.3,441 L623.4,447.3"/>
<circle cx="629.3" cy="454" r="0.8" fill="#000"/>
<path d="M567.8,440 L567.1,452.6 L567.5,461 L566.8,469.4 L566.2,476.7 L567.5,480.9 L568.9,477.8 L571.5,476.2 L575.7,476.7 L579.3,476.2 L582,476.7 L584.1,479.9 L586.2,484.1 L587.2,476.7 L587.7,471.5 L589.3,469.4 L592.5,473.6 L594.6,476.2 L597.2,470.4 L599.8,467.3 L600.9,461 L601.4,453.6 L604,451 L607.2,449.4 L610,444.2"/>
<path d="M570.4,440 L571,445.2 L573.6,448.4 L575.7,443.1 L576.7,440"/>
<path d="M579.3,450.5 L580.4,457.8 L581.4,462 L583,458.9 L584.1,452.6"/>
<path d="M587.7,440 L589.3,448.4 L591.9,451.5 L592.5,445.2"/>
<path d="M570.0,466.5 L570.0,472.5" stroke-width="1.8"/>
<path d="M594.2,441.0 L594.2,454.0" stroke-width="1.6"/>
<path d="M540,492.5 L542.1,486.2 L545.2,482 L547.3,480.4 L548.4,489.3 L550.5,492.5 L552.6,490.4 L553.1,482 L552.1,472.5 L551,470.4 L549.4,474.6 L548.6,480.9"/>
<path d="M553.0,489.0 L553.0,508.0" stroke-width="1.6"/>
<path d="M540,462 L547.3,462 L547.3,480.4"/>
<path d="M540,454.7 L541.6,455.7 L542.1,459.9"/>
<path d="M595,475.7 L597.1,470.4 L599.7,466.2 L600.2,453.6 L603.4,451.5 L606.5,450.5 L608.6,446.3 L609.2,440"/>
<path d="M611.3,440 L610.7,446.3 L609.7,452.6 L610.7,461 L611.8,469.4 L612.3,474.6 L613.9,476.7 L615.5,474.6 L616.5,468.3 L619.1,464.1 L620.7,458.9 L620.2,450.5 L619.7,440"/>
<path d="M614.4,452.6 L616,452.6 L616.5,461 L614.9,461.5 Z"/>
<path d="M623.3,440 L622.5,452.6 L621.8,461 L622.8,469.4 L623.9,472.5 L628.6,468.9 L630.7,462.6 L634.3,459.9 L636.4,454.7 L637,446.3 L637.5,440"/>
<path d="M638,453.6 L639.6,461 L641.2,456.8 L644.3,451.5 L646.4,449.4 L647.5,440"/>
<circle cx="629.3" cy="453.8" r="0.9" fill="#000"/>
</g>
<g shape-rendering="crispEdges" fill="none" stroke="#000" stroke-width="1"><rect x="512.5" y="460.5" width="35" height="19"/><rect x="590.5" y="421.5" width="35" height="19"/></g>
<g filter="url(#th)">
<text transform="translate(530,475.3) scale(1,1.26)" font-size="15.5" text-anchor="middle" style="stroke-width:0.7px">.001</text>
<text transform="translate(608,438) scale(1,1.3)" font-size="15.5" text-anchor="middle" style="stroke-width:0.7px">.001</text>
</g>

</svg>
</body>
</html>
